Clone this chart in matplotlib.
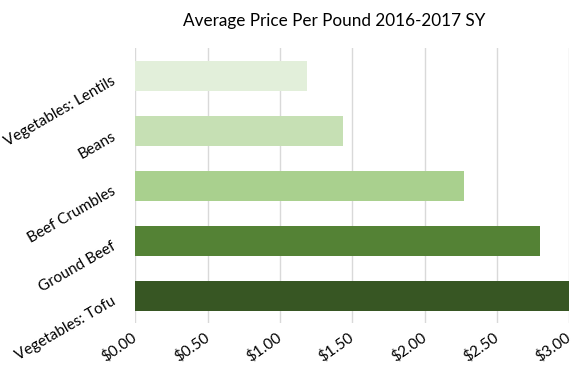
import matplotlib
matplotlib.use("Agg")
import matplotlib.pyplot as plt
import matplotlib.transforms as mtransforms
from matplotlib.ticker import FuncFormatter

# data, top to bottom as shown
items = ["Vegetables: Lentils", "Beans", "Beef Crumbles", "Ground Beef", "Vegetables: Tofu"]
price_per_lb = [1.185, 1.435, 2.27, 2.80, 2.995]
bar_colors = ["#E2EFDA", "#C6E0B4", "#A9D08E", "#548235", "#375623"]
xticks = [0.0, 0.5, 1.0, 1.5, 2.0, 2.5, 3.0]

plt.rcParams['font.family'] = ['Lato', 'DejaVu Sans']

fig = plt.figure(figsize=(5.85, 3.7), dpi=100)
ax = fig.add_axes([0.2313, 0.127, 0.742, 0.743])

ypos = list(range(len(items)))
ax.barh(ypos, price_per_lb, height=0.545, color=bar_colors, zorder=2)
ax.set_ylim(len(items) - 0.5, -0.5)
ax.set_xlim(0, 3.0)

ax.set_xticks(xticks)
ax.xaxis.set_major_formatter(FuncFormatter(lambda v, p: "${:.2f}".format(v)))
ax.set_yticks(ypos)
ax.set_yticklabels(items)

ax.grid(axis='x', color='#D9D9D9', linewidth=1, zorder=0)
ax.tick_params(axis='both', length=0, labelsize=11, colors='black')
ax.tick_params(axis='y', pad=15)
ax.tick_params(axis='x', pad=9)
for s in ax.spines.values():
    s.set_visible(False)

# nudge the slanted category labels down a little
shift = mtransforms.ScaledTranslation(0, -5 / 100, fig.dpi_scale_trans)
for lbl in ax.get_yticklabels():
    lbl.set_rotation(30)
    lbl.set_rotation_mode('anchor')
    lbl.set_ha('right')
    lbl.set_va('center')
    lbl.set_transform(lbl.get_transform() + shift)
for lbl in ax.get_xticklabels():
    lbl.set_rotation(35)
    lbl.set_rotation_mode('anchor')
    lbl.set_ha('right')
    lbl.set_va('center')

fig.text(0.571, 0.943, "Average Price Per Pound 2016-2017 SY", ha='center', va='center',
         fontsize=12.3, color='black')

fig.savefig("out.png", dpi=100)
